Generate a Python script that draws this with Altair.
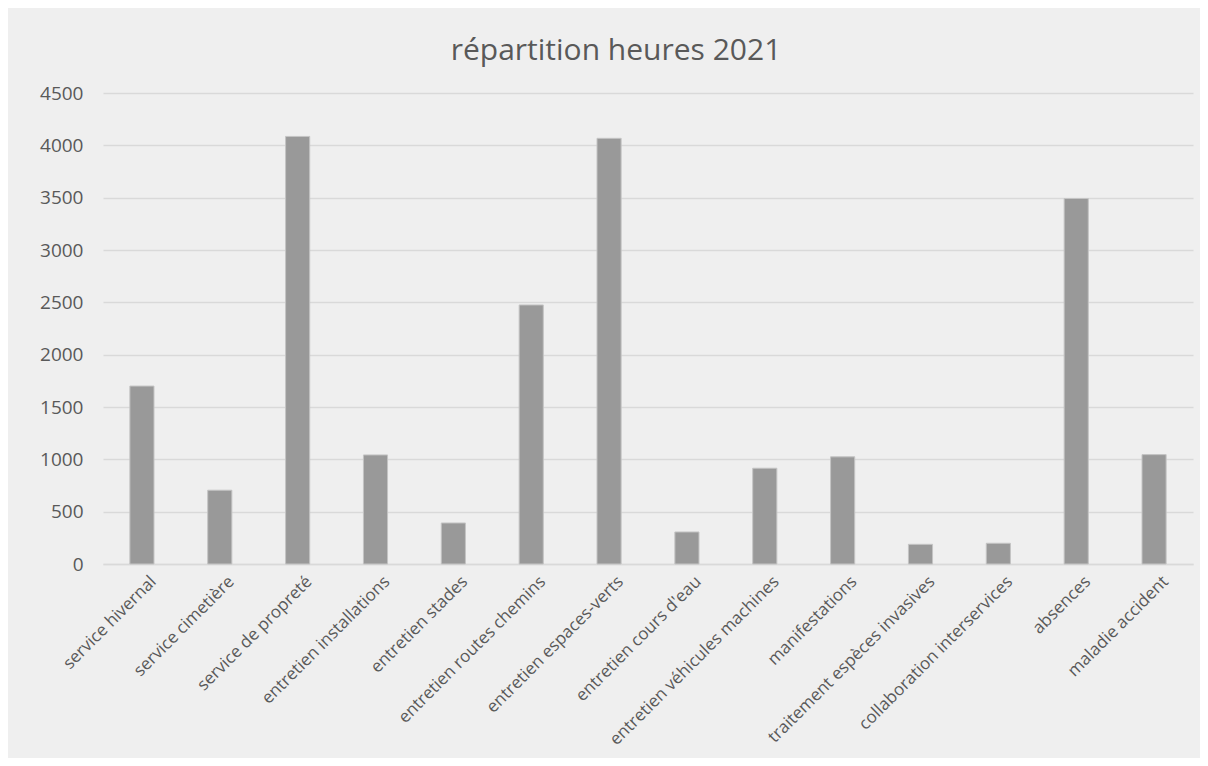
import altair as alt
import pandas as pd

categories = [
    "service hivernal", "service cimetière", "service de propreté",
    "entretien installations", "entretien stades", "entretien routes chemins",
    "entretien espaces-verts", "entretien cours d'eau",
    "entretien véhicules machines", "manifestations",
    "traitement espèces invasives", "collaboration interservices",
    "absences", "maladie accident",
]
hours = [1700, 705, 4085, 1042, 392, 2475, 4067, 306, 915, 1024, 188, 198, 3492, 1045]
y_ticks = [0, 500, 1000, 1500, 2000, 2500, 3000, 3500, 4000, 4500]

df = pd.DataFrame({"cat": categories, "h": hours})

FONT = "Open Sans"
TXT = "#595959"

chart = (
    alt.Chart(df)
    .mark_bar(color="#999999", stroke="#c4c4c4", strokeWidth=1)
    .encode(
        x=alt.X(
            "cat:N",
            sort=categories,
            title=None,
            scale=alt.Scale(paddingInner=0.69, paddingOuter=0.345),
            axis=alt.Axis(
                labelAngle=-45,
                labelAlign="right",
                labelBaseline="top",
                labelPadding=9,
                labelOffset=6,
                ticks=False,
                domain=True,
                domainColor="#d9d9d9",
                domainWidth=1.5,
                labelColor=TXT,
                labelFont=FONT,
                labelFontSize=17,
                labelLimit=400,
            ),
        ),
        y=alt.Y(
            "h:Q",
            title=None,
            scale=alt.Scale(domain=[0, 4500], nice=False),
            axis=alt.Axis(
                values=y_ticks,
                format="d",
                ticks=False,
                domain=False,
                grid=True,
                gridColor="#d9d9d9",
                gridWidth=1.5,
                labelColor=TXT,
                labelFont=FONT,
                labelFontSize=19,
                labelPadding=20,
            ),
        ),
    )
    .properties(
        width=1090,
        height=471,
        title=alt.TitleParams(
            "répartition heures 2021",
            font=FONT,
            fontSize=30,
            fontWeight="normal",
            color=TXT,
            anchor="middle",
            offset=18,
            dx=-32,
        ),
        background="#efefef",
        padding={"left": 95, "top": 85, "right": 7, "bottom": 194},
        autosize=alt.AutoSizeParams(type="none"),
    )
    .configure_view(stroke=None)
)

chart.save("out.html", embed_options={"renderer": "svg", "actions": False})
